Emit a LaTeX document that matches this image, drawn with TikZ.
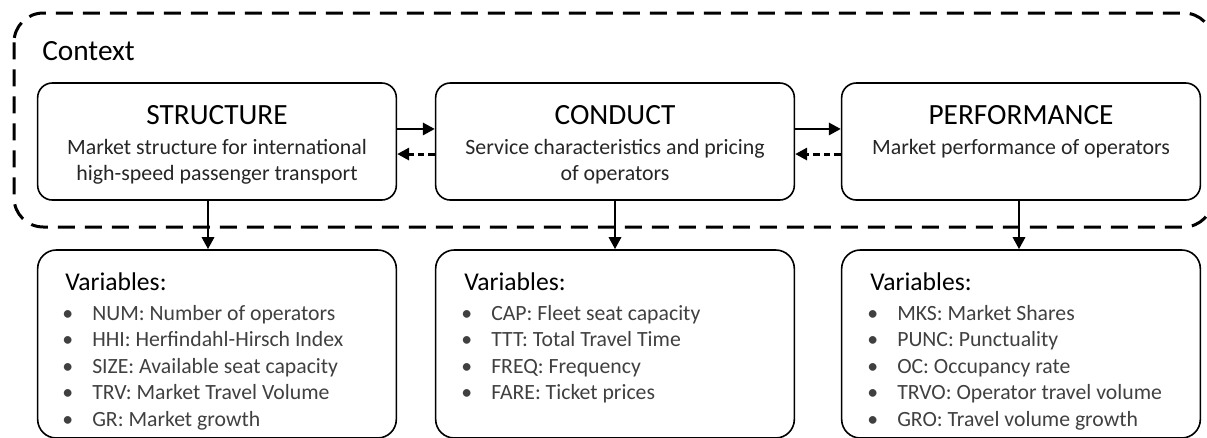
\documentclass[tikz,border=0pt]{standalone}
\usepackage{fontspec}
\setmainfont{Carlito}
\usepackage{tikz}
\usetikzlibrary{arrows.meta, positioning}

\newcommand{\itm}[1]{\makebox[22.5pt][l]{\textbullet}#1}

\begin{document}
\begin{tikzpicture}[
          box/.style={draw, line width=1.2pt, rounded corners=11pt, minimum width=269pt, minimum height=87.75pt, inner sep=0pt},
          vbox/.style={draw, line width=1.2pt, rounded corners=14pt, minimum width=269pt, minimum height=141pt, inner sep=0pt},
          ttl/.style={anchor=base, inner sep=0pt, font=\fontsize{22}{26}\selectfont},
          sub/.style={anchor=base, inner sep=0pt, text=black!85, font=\fontsize{16.4}{19.5}\selectfont},
          vhd/.style={anchor=base west, inner sep=0pt, font=\fontsize{19.2}{23}\selectfont},
          vit/.style={anchor=base west, inner sep=0pt, text=black!75, font=\fontsize{16.3}{19.5}\selectfont},
          arr/.style={line width=2.2pt, -{Triangle[length=9pt, width=9pt]}},
          back/.style={line width=2.2pt, dash pattern=on 5pt off 3pt, -{Triangle[length=9pt, width=9pt]}},
          x=0.75pt,
          y=-0.75pt,
        ]
      \useasboundingbox (0, 0) rectangle (1207, 437);
      % context frame
      \draw[line width=2.25pt, dash pattern=on 12.75pt off 7.5pt, rounded corners=22pt] (14, 13) rectangle (1213, 227);
      \node[anchor=base west, inner sep=0pt, font=\fontsize{22}{26}\selectfont] (ctx) at (42, 60) {Context};
      % upper boxes
      \node[box] (st) at (217, 141.5) {};
      \node[box] (cd) at (615, 141.5) {};
      \node[box] (pf) at (1021, 141.5) {};
      \node[ttl] (sttl) at (217, 124) {STRUCTURE};
      \node[sub] (sts1) at (217, 154) {Market structure for international};
      \node[sub] (sts2) at (217, 180) {high-speed passenger transport};
      \node[ttl] (cdtl) at (615, 124) {CONDUCT};
      \node[sub] (cds1) at (615, 154) {Service characteristics and pricing};
      \node[sub] (cds2) at (615, 180) {of operators};
      \node[ttl] (pftl) at (1021, 124) {PERFORMANCE};
      \node[sub] (pfs1) at (1021, 154) {Market performance of operators};
      % variable boxes
      \node[vbox] (sv) at (217, 344) {};
      \node[vbox] (cv) at (615, 344) {};
      \node[vbox] (pv) at (1021, 344) {};
      \node[vhd] (svh) at (65, 290) {Variables:};
      \node[vit] (sv1) at (62, 320) {\itm{NUM: Number of operators}};
      \node[vit] (sv2) at (62, 346.5) {\itm{HHI: Herfindahl-Hirsch Index}};
      \node[vit] (sv3) at (62, 373) {\itm{SIZE: Available seat capacity}};
      \node[vit] (sv4) at (62, 399.5) {\itm{TRV: Market Travel Volume}};
      \node[vit] (sv5) at (62, 426) {\itm{GR: Market growth}};
      \node[vhd] (cvh) at (464, 290) {Variables:};
      \node[vit] (cv1) at (461, 320) {\itm{CAP: Fleet seat capacity}};
      \node[vit] (cv2) at (461, 346.5) {\itm{TTT: Total Travel Time}};
      \node[vit] (cv3) at (461, 373) {\itm{FREQ: Frequency}};
      \node[vit] (cv4) at (461, 399.5) {\itm{FARE: Ticket prices}};
      \node[vhd] (pvh) at (870, 290) {Variables:};
      \node[vit] (pv1) at (867, 320) {\itm{MKS: Market Shares}};
      \node[vit] (pv2) at (867, 346.5) {\itm{PUNC: Punctuality}};
      \node[vit] (pv3) at (867, 373) {\itm{OC: Occupancy rate}};
      \node[vit] (pv4) at (867, 399.5) {\itm{TRVO: Operator travel volume}};
      \node[vit] (pv5) at (867, 426) {\itm{GRO: Travel volume growth}};
      % links
      \draw[arr] ([yshift=9.4pt]st.east) -- ([yshift=9.4pt]cd.west);
      \draw[back] ([yshift=-9.4pt]cd.west) -- ([yshift=-9.4pt]st.east);
      \draw[arr] ([yshift=9.4pt]cd.east) -- ([yshift=9.4pt]pf.west);
      \draw[back] ([yshift=-9.4pt]pf.west) -- ([yshift=-9.4pt]cd.east);
      \draw[arr] ([xshift=-6.75pt]st.south) -- ([xshift=-6.75pt]sv.north);
      \draw[arr] (cd.south) -- (cv.north);
      \draw[arr] ([xshift=-1.5pt]pf.south) -- ([xshift=-1.5pt]pv.north);
    \end{tikzpicture}
\end{document}
